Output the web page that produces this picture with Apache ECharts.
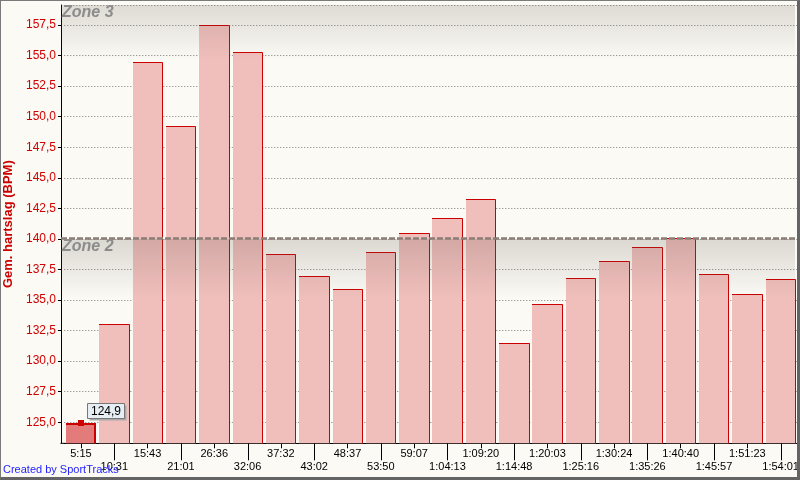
<!DOCTYPE html>
<html><head><meta charset="utf-8">
<script src="https://cdn.jsdelivr.net/npm/echarts@6/dist/echarts.min.js"></script>
<style>
html,body{margin:0;padding:0;background:#fbfaf5;}
#wrap{position:relative;width:800px;height:480px;overflow:hidden;}
#c{position:absolute;left:0;top:0;width:800px;height:480px;}
#b{position:absolute;left:0;top:0;width:800px;height:480px;box-sizing:border-box;border-style:solid;border-color:#7a7a7a #646464 #646464 #7a7a7a;border-width:1px 3px 3px 1px;pointer-events:none;}
</style></head><body>
<div id="wrap"><div id="c"></div><div id="b"></div></div>
<script>
const categories = ['5:15','10:31','15:43','21:01','26:36','32:06','37:32','43:02','48:37','53:50','59:07','1:04:13','1:09:20','1:14:48','1:20:03','1:25:16','1:30:24','1:35:26','1:40:40','1:45:57','1:51:23','1:54:01'];
const heartRate = [124.9,133.0,154.5,149.2,157.5,155.3,138.8,137.0,135.9,138.9,140.5,141.7,143.3,131.5,134.7,136.8,138.2,139.3,140.1,137.1,135.5,136.7];
const zoneNames = ['Zone 2','Zone 3'];
const zoneLower = [140, 159.5];
const yMin = 123.28, yMax = 159.14, yStep = 2.5;
const highlightIndex = 0;
const yTitle = 'Gem. hartslag (BPM)';
const credit = 'Created by SportTracks';

const fmt = v => v.toFixed(1).replace('.', ',');
const chart = echarts.init(document.getElementById('c'), null, {renderer:'canvas'});

function renderBar(params, api) {
  const i = api.value(0), v = api.value(1);
  const top = api.coord([i, v]);
  const base = api.coord([i, yMin]);
  const band = api.size([1, 0])[0];
  const left = Math.round(top[0] - band * 0.45);
  const right = Math.round(top[0] + band * 0.465);
  const y0 = Math.round(top[1]);
  const y1 = base[1];
  const hl = i === highlightIndex;
  const lw = hl ? 2 : 1;
  return {type:'group', children:[
    {type:'rect', shape:{x:left, y:y0, width:right-left, height:y1-y0}, style:{fill: hl ? '#e37b7a' : '#f0bfbc'}},
    {type:'polyline', shape:{points:[[left, y0 + lw/2],[right - lw/2, y0 + lw/2],[right - lw/2, y1]]}, style:{stroke:'#cc0000', lineWidth:lw, fill:null}}
  ]};
}

function renderHighlight(params, api) {
  const i = api.value(0), v = api.value(1);
  const top = api.coord([i, v]);
  const cx = Math.round(top[0]), y0 = Math.round(top[1]);
  const bx = cx + 6, by = y0 - 20, bw = 37, bh = 15;
  return {type:'group', children:[
    {type:'rect', shape:{x:cx-3, y:y0-3, width:6, height:6}, style:{fill:'#cc0000'}},
    {type:'rect', shape:{x:bx+2.5, y:by+2.5, width:bw, height:bh}, style:{fill:'#a9a9a9'}},
    {type:'rect', shape:{x:bx+0.5, y:by+0.5, width:bw, height:bh}, style:{fill:'#e6eef3', stroke:'#777777', lineWidth:1}},
    {type:'text', x:bx + bw/2 + 0.5, y:by + bh/2 + 1, style:{text:fmt(v), fill:'#000', font:'12px "Liberation Sans", Arial, sans-serif', align:'center', verticalAlign:'middle'}}
  ]};
}

function renderLongTick(params, api) {
  const p = api.coord([api.value(0), yMin]);
  const x = Math.round(p[0]) + 0.5;
  return {type:'line', shape:{x1:x, y1:p[1], x2:x, y2:p[1] + 17}, style:{stroke:'#000', lineWidth:1}};
}

function renderZone(params, api) {
  const cs = params.coordSys;
  const x0 = 61, x1 = 795;
  const yL = api.coord([0, api.value(1)])[1];
  const top = Math.max(yL, cs.y);
  const fade = 60;
  const children = [];
  children.push({type:'rect', shape:{x:x0, y:top, width:x1-x0, height:yL+fade-top},
    style:{fill:new echarts.graphic.LinearGradient(0, yL, 0, yL+fade, [{offset:0,color:'rgba(96,80,70,0.2)'},{offset:1,color:'rgba(96,80,70,0)'}], true)}});
  if (yL >= cs.y) {
    children.push({type:'line', shape:{x1:x0, y1:yL-0.5, x2:x1, y2:yL-0.5}, style:{stroke:'#8a7e76', lineWidth:2.5, lineDash:[6,2]}});
  }
  children.push({type:'text', x:62, y:top+7.5, style:{text:zoneNames[params.dataIndex], fill:'#8c8c8c', font:'italic bold 16px "Liberation Sans", Arial, sans-serif', align:'left', verticalAlign:'middle'}});
  if (params.dataIndex === 0) {
    const yb = cs.y + cs.height;
    children.push({type:'line', shape:{x1:60.5, y1:yb, x2:cs.x+1, y2:yb}, style:{stroke:'#000', lineWidth:1}});
  }
  return {type:'group', children};
}

const axisFont = '"Liberation Sans", Arial, sans-serif';
const oddIdx = categories.map((c,i)=>i).filter(i=>i%2===1);
const option = {
  backgroundColor:'#fbfaf5',
  animation:false,
  grid:{left:64.3, right:2.7, top:5, bottom:36.7, outerBoundsMode:'none'},
  xAxis:[
    {type:'category', data:categories, position:'bottom', boundaryGap:true,
     axisLine:{show:true, lineStyle:{color:'#000', width:1}},
     axisTick:{show:true, alignWithLabel:true, length:5, interval:(i)=>i%2===0, lineStyle:{color:'#000'}},
     axisLabel:{interval:(i)=>i%2===0, margin:5, color:'#000', fontSize:11, fontFamily:axisFont},
     splitLine:{show:false}},
    {type:'category', data:categories, position:'bottom', boundaryGap:true,
     axisLine:{show:false},
     axisTick:{show:false},
     axisLabel:{interval:(i)=>i%2===1, margin:18, color:'#000', fontSize:11, fontFamily:axisFont},
     splitLine:{show:false}}
  ],
  yAxis:{type:'value', min:yMin, max:yMax, minInterval:yStep, maxInterval:yStep, offset:3.3,
    name:yTitle, nameLocation:'middle', nameGap:46,
    nameTextStyle:{color:'#cc0000', fontWeight:'bold', fontSize:13, fontFamily:axisFont},
    axisLine:{show:true, lineStyle:{color:'#000', width:1}},
    axisTick:{show:true, length:3, lineStyle:{color:'#000'}},
    axisLabel:{margin:5, color:'#d00000', fontSize:12, fontFamily:axisFont, showMinLabel:false, showMaxLabel:false,
      formatter:(v)=> Math.abs(v/yStep - Math.round(v/yStep)) < 1e-6 ? fmt(v) : ''},
    splitLine:{show:true, lineStyle:{color:'#7a7a7a', width:1, type:[1,2]}}
  },
  series:[
    {type:'custom', name:'bars', xAxisIndex:0, z:2, renderItem:renderBar, encode:{x:0, y:1},
     data:heartRate.map((v,i)=>[i,v])},
    {type:'custom', name:'zones', xAxisIndex:0, z:5, clip:false, silent:true, renderItem:renderZone, encode:{x:0, y:1},
     data:zoneLower.map((l)=>[0,l])},
    {type:'custom', name:'ticks', xAxisIndex:0, z:6, clip:false, silent:true, renderItem:renderLongTick, encode:{x:0, y:1},
     data:oddIdx.map((i)=>[i, yMin])},
    {type:'custom', name:'highlight', xAxisIndex:0, z:10, clip:false, silent:true, renderItem:renderHighlight, encode:{x:0, y:1},
     data:[[highlightIndex, heartRate[highlightIndex]]]}
  ],
  graphic:[
    {type:'text', left:3, top:464, z:10, style:{text:credit, fill:'#1f1fff', font:'11px "Liberation Sans", Arial, sans-serif'}}
  ]
};
chart.setOption(option);
</script>
</body></html>
